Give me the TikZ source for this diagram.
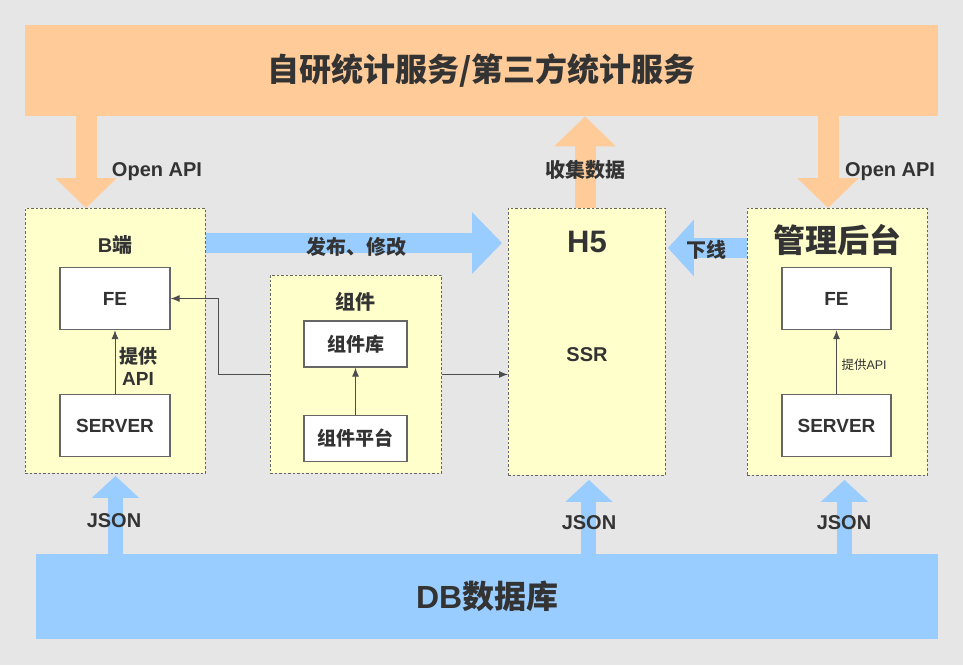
\documentclass[tikz,border=0pt]{standalone}
\usepackage{fontspec}
\setmainfont{Liberation Sans}
\newfontfamily\cjkfont{Noto Sans CJK SC}
\newcommand\zh[1]{{\cjkfont #1}}
\usetikzlibrary{arrows.meta,positioning}

\definecolor{bggray}{HTML}{E6E6E6}
\definecolor{orangebar}{HTML}{FFCC99}
\definecolor{bluebar}{HTML}{99CCFF}
\definecolor{yellowfill}{HTML}{FFFFCC}
\definecolor{textdark}{HTML}{333333}
\definecolor{linegray}{HTML}{666666}
\definecolor{wiregray}{HTML}{4D4D4D}

\begin{document}
\begin{tikzpicture}[x=1pt, y=-1pt,
    every node/.style={text=textdark, font=\bfseries\fontsize{20}{24}\selectfont},
    bigbar/.style={fill=#1, anchor=north west, inner sep=0pt, font=\bfseries\fontsize{32}{36}\selectfont},
    yellowbox/.style={draw=linegray, dash pattern=on 2.5pt off 2pt, line width=0.9pt, fill=yellowfill, anchor=north west, inner sep=0pt},
    whitebox/.style={draw=linegray, line width=1.2pt, fill=white, inner sep=0pt, minimum width=110pt, minimum height=62pt, font=\bfseries\fontsize{19}{23}\selectfont},
    compbox/.style={whitebox, minimum width=103pt, minimum height=46pt},
    wire/.style={draw=wiregray, line width=1pt, -{Latex[length=9pt,width=7pt]}},
    orangearrow/.style={draw=orangebar, line width=21pt, -{Triangle[width=60pt,length=30pt]}},
    bluearrow/.style={draw=bluebar, line width=20pt, -{Triangle[width=60pt,length=30pt]}},
    jsonarrow/.style={draw=bluebar, line width=15pt, -{Triangle[width=46pt,length=22pt]}},
    ]
  % background
  \fill[bggray] (0,0) rectangle (963,665);

  % top and bottom bars
  \node[bigbar=orangebar, minimum width=913pt, minimum height=91pt] (topbar) at (25,25) {\zh{自研统计服务/第三方统计服务}};
  \node[bigbar=bluebar, minimum width=902pt, minimum height=85pt] (dbbar) at (36,554) {DB\zh{数据库}};

  % B side
  \node[yellowbox, minimum width=180pt, minimum height=265pt] (bside) at (25,208) {};
  \node at (115,245) (btitle) {B\zh{端}};
  \node[whitebox] (bfe) at (115,298.5) {FE};
  \node[whitebox, below=64pt of bfe] (bserver) {SERVER};
  \draw[wire] (bserver) -- (bfe);
  \node[align=center, font=\bfseries\fontsize{19}{22}\selectfont] (bapi) at (138,366) {\zh{提供}\\API};

  % components
  \node[yellowbox, minimum width=171pt, minimum height=198pt] (comp) at (270,275) {};
  \node at (355.5,302) (comptitle) {\zh{组件}};
  \node[compbox] (complib) at (355.5,344) {\zh{组件库}};
  \node[compbox, below=47pt of complib] (compplat) {\zh{组件平台}};
  \draw[wire] (compplat) -- (complib);

  % H5
  \node[yellowbox, minimum width=157pt, minimum height=267pt] (h5) at (508,208) {};
  \node[font=\bfseries\fontsize{31}{35}\selectfont] (h5title) at (587,242) {H5};
  \node (ssr) at (587,355) {SSR};

  % admin
  \node[yellowbox, minimum width=180pt, minimum height=267pt] (admin) at (747,208) {};
  \node[font=\bfseries\fontsize{32}{36}\selectfont] (admintitle) at (837,240) {\zh{管理后台}};
  \node[whitebox, minimum width=109pt] (afe) at (836.5,298.5) {FE};
  \node[whitebox, minimum width=109pt, below=64pt of afe] (aserver) {SERVER};
  \draw[wire] (aserver) -- (afe);
  \node[anchor=west, font=\fontsize{12.5}{14}\selectfont] (aapi) at (838,365) {\zh{提供}API};

  % wires from components
  \draw[wire] (comp.west) -- ++(-52,0) |- (bfe.east);
  \draw[wire] (comp.east) -- (comp.east -| h5.west);

  % open api arrows
  \coordinate (apiL) at ([xshift=61pt]bside.north west);
  \coordinate (apiR) at ([xshift=81pt]admin.north west);
  \draw[orangearrow] (topbar.south -| apiL) -- (apiL);
  \draw[orangearrow] (topbar.south -| apiR) -- (apiR);
  \node (apiLtext) at (157,172) {Open API};
  \node (apiRtext) at (890,172) {Open API};

  % collect data
  \coordinate (collect) at ([xshift=77pt]h5.north west);
  \draw[orangearrow] (collect) -- (topbar.south -| collect);
  \node (collecttext) at (585,170) {\zh{收集数据}};

  % publish and offline
  \draw[bluearrow] ([yshift=-35pt]bside.north east) -- ([xshift=-6pt,yshift=-35pt]h5.north west);
  \node (publish) at (356,247) {\zh{发布、修改}};
  \draw[draw=bluebar, line width=20pt, -{Triangle[width=55pt,length=26pt]}] ([yshift=-40pt]admin.north west) -- ([xshift=2pt,yshift=-40pt]h5.north east);
  \node (offline) at (706,250) {\zh{下线}};

  % json arrows
  \coordinate (jsonL) at ([yshift=-2pt]bside.south);
  \coordinate (jsonM) at ([xshift=2pt,yshift=-4pt]h5.south);
  \coordinate (jsonR) at ([xshift=7pt,yshift=-4pt]admin.south);
  \draw[jsonarrow] (dbbar.north -| jsonL) -- (jsonL);
  \draw[jsonarrow] (dbbar.north -| jsonM) -- (jsonM);
  \draw[jsonarrow] (dbbar.north -| jsonR) -- (jsonR);
  \node (json1) at (114,521) {JSON};
  \node (json2) at (589,523) {JSON};
  \node (json3) at (844,523) {JSON};
\end{tikzpicture}
\end{document}
